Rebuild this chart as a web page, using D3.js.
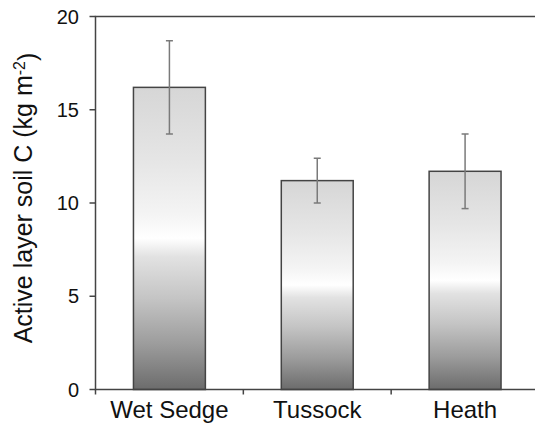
<!DOCTYPE html>
<html>
<head>
<meta charset="utf-8">
<script src="https://cdn.jsdelivr.net/npm/d3@7"></script>
<style>
body { margin: 0; background: #fff; }
text { font-family: "Liberation Sans", Arial, sans-serif; }
</style>
</head>
<body>
<div id="chart"></div>
<script>
(function(){

// data
var categories = ["Wet Sedge", "Tussock", "Heath"],
	means = [16.2, 11.2, 11.7],
	errors = [2.5, 1.2, 2.0],
	yTicks = [0, 5, 10, 15, 20];

var width = 535,
	height = 423,
	left = 95.5,
	right = 539,
	top = 16.5,
	bottom = 389.5;

var svg = d3.select("#chart").append("svg")
		.attr("width", width)
		.attr("height", height);

var X = d3.scaleBand().domain(categories).range([left, right])
		.paddingInner(0.5135).paddingOuter(0.5135/2);
var Y = d3.scaleLinear().domain([0, 20]).range([bottom, top]);

// shaded bar fill, white band in the middle
var grad = svg.append("defs").append("linearGradient")
		.attr("id", "barfill")
		.attr("x1", 0).attr("y1", 0).attr("x2", 0).attr("y2", 1);

[[0, "#d6d6d6"], [0.25, "#e6e6e6"], [0.42, "#f4f4f4"], [0.5, "#ffffff"],
 [0.56, "#e2e2e2"], [0.7, "#c4c4c4"], [0.85, "#9c9c9c"], [1, "#6c6c6c"]]
	.forEach(function(s){
		grad.append("stop").attr("offset", s[0]).attr("stop-color", s[1]);
	});

// bars
svg.selectAll(".bar").data(categories).enter().append("rect")
	.attr("class", "bar")
	.attr("x", function(d){ return X(d); })
	.attr("y", function(d, i){ return Y(means[i]); })
	.attr("width", X.bandwidth())
	.attr("height", function(d, i){ return Y(0) - Y(means[i]); })
	.style("fill", "url(#barfill)")
	.style("stroke", "#444")
	.style("stroke-width", 1.5);

// error bars
var eb = svg.selectAll(".err").data(categories).enter().append("g")
	.attr("class", "err")
	.attr("transform", function(d){ return "translate(" + (X(d) + X.bandwidth()/2) + ",0)"; })
	.style("stroke", "#7a7a7a")
	.style("stroke-width", 1.5);

eb.append("line")
	.attr("y1", function(d, i){ return Y(means[i] + errors[i]); })
	.attr("y2", function(d, i){ return Y(means[i] - errors[i]); });
eb.append("line")
	.attr("x1", -3.5).attr("x2", 3.5)
	.attr("y1", function(d, i){ return Y(means[i] + errors[i]); })
	.attr("y2", function(d, i){ return Y(means[i] + errors[i]); });
eb.append("line")
	.attr("x1", -3.5).attr("x2", 3.5)
	.attr("y1", function(d, i){ return Y(means[i] - errors[i]); })
	.attr("y2", function(d, i){ return Y(means[i] - errors[i]); });

// frame lines (left, top, bottom)
var axisColor = "#444";
svg.append("path")
	.attr("d", "M" + right + "," + top + "H" + left + "V" + bottom + "H" + right)
	.style("fill", "none").style("stroke", axisColor).style("stroke-width", 1.5);

// y axis ticks and labels
var yAxis = svg.append("g");
yAxis.selectAll("line").data(yTicks).enter().append("line")
	.attr("x1", left - 6).attr("x2", left)
	.attr("y1", function(d){ return Y(d); })
	.attr("y2", function(d){ return Y(d); })
	.style("stroke", axisColor).style("stroke-width", 1.5);
yAxis.selectAll("text").data(yTicks).enter().append("text")
	.attr("x", 79)
	.attr("y", function(d){ return Y(d); })
	.attr("dy", "0.35em")
	.attr("text-anchor", "end")
	.style("font-size", "20px")
	.style("fill", "#111")
	.text(function(d){ return d; });

// x axis ticks between categories
var step = X.step();
var xEdges = categories.map(function(d){ return X(d) + X.bandwidth()/2 - step/2; });
xEdges.push(xEdges[xEdges.length - 1] + step);
svg.selectAll(".xtick").data(xEdges).enter().append("line")
	.attr("class", "xtick")
	.attr("x1", function(d){ return d; }).attr("x2", function(d){ return d; })
	.attr("y1", bottom).attr("y2", bottom + 5)
	.style("stroke", axisColor).style("stroke-width", 1.5);

svg.selectAll(".xlabel").data(categories).enter().append("text")
	.attr("class", "xlabel")
	.attr("x", function(d){ return X(d) + X.bandwidth()/2; })
	.attr("y", 418)
	.attr("text-anchor", "middle")
	.style("font-size", "24px")
	.style("fill", "#111")
	.text(function(d){ return d; });

// y title
var title = svg.append("text")
	.attr("transform", "translate(32,198) rotate(-90)")
	.attr("text-anchor", "middle")
	.style("font-size", "25px")
	.style("fill", "#111");
title.append("tspan").text("Active layer soil C (kg m");
title.append("tspan").attr("dy", "-0.45em").style("font-size", "16px").text("-2");
title.append("tspan").attr("dy", "0.45em").text(")");

})()
</script>
</body>
</html>
